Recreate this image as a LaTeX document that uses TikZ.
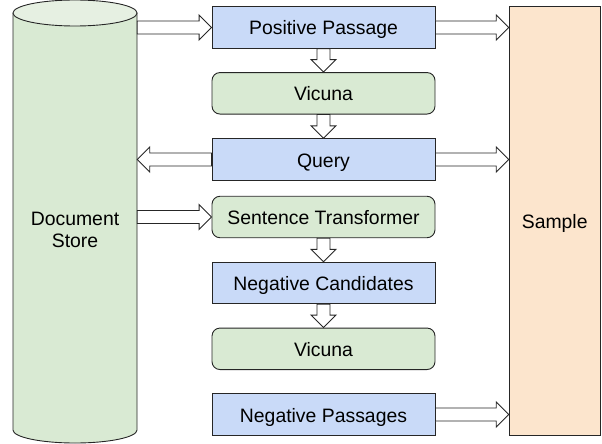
\documentclass[tikz,border=0pt]{standalone}
\usepackage{fontspec}
\setmainfont{Liberation Sans}
\usetikzlibrary{calc}
\definecolor{cblue}{HTML}{C9DAF8}
\definecolor{cgreen}{HTML}{D9EAD3}
\definecolor{corange}{HTML}{FCE5CD}
\definecolor{cgreentop}{HTML}{E6F0E2}
\newcommand\harr[2]{\path[barrow] let \p1=(#1), \p2=(#2), \n1={sign(\x2-\x1)} in
  (\x1,{\y1+6.5pt}) -- ({\x2-(\n1)*12.5pt},{\y1+6.5pt}) -- ({\x2-(\n1)*12.5pt},{\y1+12.5pt}) -- (\x2,\y1)
  -- ({\x2-(\n1)*12.5pt},{\y1-12.5pt}) -- ({\x2-(\n1)*12.5pt},{\y1-6.5pt}) -- (\x1,{\y1-6.5pt}) -- cycle;}
\newcommand\varr[2]{\path[barrow] let \p1=(#1), \p2=(#2), \n1={sign(\y2-\y1)} in
  ({\x1+6.5pt},\y1) -- ({\x1+6.5pt},{\y2-(\n1)*12.5pt}) -- ({\x1+12.5pt},{\y2-(\n1)*12.5pt}) -- (\x1,\y2)
  -- ({\x1-12.5pt},{\y2-(\n1)*12.5pt}) -- ({\x1-6.5pt},{\y2-(\n1)*12.5pt}) -- ({\x1-6.5pt},\y1) -- cycle;}
\begin{document}
\begin{tikzpicture}[x=1pt,y=-1pt,
  font=\fontsize{19.4}{22}\selectfont,
  boxbase/.style={draw=black!85, line width=0.9pt, minimum width=223pt, minimum height=41.5pt, inner sep=0pt, anchor=center, text height=15pt, text depth=0pt},
  bluenode/.style={boxbase, fill=cblue},
  greennode/.style={boxbase, fill=cgreen, rounded corners=8pt},
  barrow/.style={draw=black!85, line width=0.9pt, fill=white, line join=miter}
]
\useasboundingbox (0,0) rectangle (602,444);
% cylinder (document store)
\filldraw[fill=cgreen, draw=black!85, line width=0.9pt]
  (13,13) -- (13,430) .. controls (13,437.18) and (40.76,443) .. (75,443)
  .. controls (109.24,443) and (137,437.18) .. (137,430) -- (137,13);
\filldraw[fill=cgreentop, draw=black!85, line width=0.9pt] (75,13) ellipse [x radius=62, y radius=13];
\node[inner sep=0pt, minimum width=124pt, align=center] (store) at (75,229.5) {Document\\Store};
% sample
\node[draw=black!85, line width=0.9pt, fill=corange, minimum width=91pt, minimum height=429pt, inner sep=0pt] (sample) at (554.7,220.5) {};
\node[inner sep=0pt, text height=15pt, text depth=0pt] (sampletext) at (sample.center) {Sample};
% boxes
\node[bluenode] (pp) at (323.5,27.5) {Positive Passage};
\node[greennode] (vic1) at (323.5,93.3) {Vicuna};
\node[bluenode] (q) at (323.5,159.5) {Query};
\node[greennode] (st) at (323.5,217) {Sentence Transformer};
\node[bluenode] (nc) at (323.5,283) {Negative Candidates};
\node[greennode] (vic2) at (323.5,348.8) {Vicuna};
\node[bluenode] (np) at (323.5,414.5) {Negative Passages};
% arrows
\harr{store.east |- pp.west}{pp.west}
\harr{pp.east}{sample.west |- pp.east}
\varr{pp.south}{vic1.north}
\varr{vic1.south}{q.north}
\harr{q.west}{store.east |- q.west}
\harr{q.east}{sample.west |- q.east}
\harr{store.east |- st.west}{st.west}
\varr{st.south}{nc.north}
\varr{nc.south}{vic2.north}
\harr{np.east}{sample.west |- np.east}
\end{tikzpicture}
\end{document}
